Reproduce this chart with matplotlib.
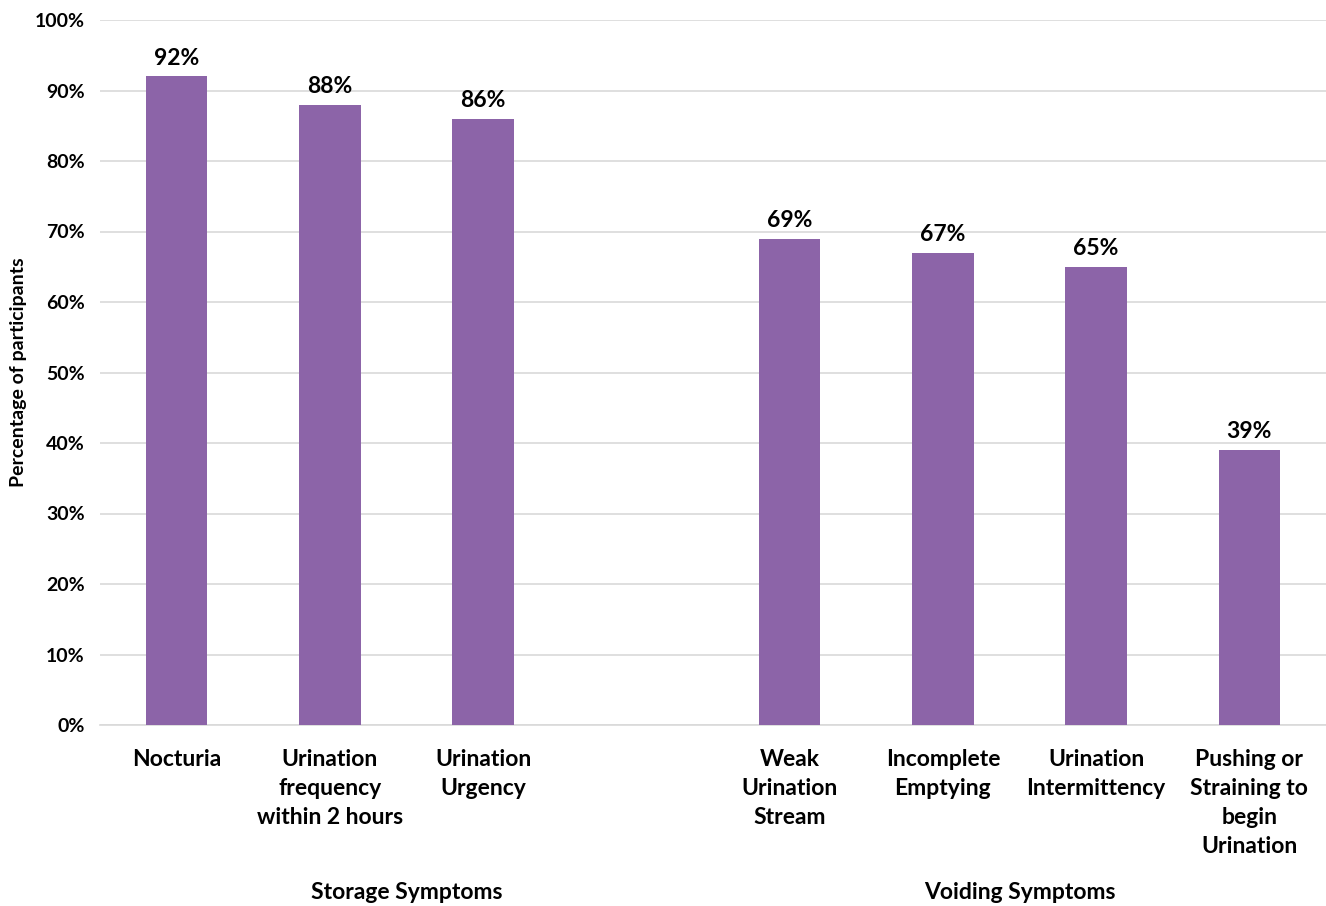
import matplotlib.pyplot as plt
from matplotlib.ticker import PercentFormatter

plt.rcParams['font.family'] = ['Lato', 'DejaVu Sans']
plt.rcParams['font.weight'] = 'bold'

# data
categories = ['Nocturia', 'Urination\nfrequency\nwithin 2 hours', 'Urination\nUrgency',
              'Weak\nUrination\nStream', 'Incomplete\nEmptying', 'Urination\nIntermittency',
              'Pushing or\nStraining to\nbegin\nUrination']
values = [92, 88, 86, 69, 67, 65, 39]
slots = [0, 1, 2, 4, 5, 6, 7]
groups = ['Storage Symptoms', 'Voiding Symptoms']
group_centers = [1.5, 5.5]

bar_color = '#8C64A8'
grid_color = '#D9D9D9'

fig = plt.figure(figsize=(13.26, 9.06), dpi=100)
ax = fig.add_axes([100 / 1326, 181 / 906, 1226 / 1326, 705 / 906])

bars = ax.bar(slots, values, width=0.4, color=bar_color, zorder=3)
for x, v in zip(slots, values):
    ax.text(x, v + 1.1, f'{v}%', ha='center', va='bottom', fontsize=16.5, fontweight='bold')

ax.set_xlim(-0.5, 7.5)
ax.set_ylim(0, 100)
ax.set_yticks(range(0, 101, 10))
ax.yaxis.set_major_formatter(PercentFormatter(decimals=0))
ax.set_xticks(slots)
ax.set_xticklabels(categories, fontsize=16.5, fontweight='bold', linespacing=1.47, va='top')
ax.tick_params(axis='x', length=0, pad=17)
ax.tick_params(axis='y', length=0, pad=11, labelsize=14)
for lab in ax.get_yticklabels():
    lab.set_fontweight('bold')

ax.grid(axis='y', color=grid_color, linewidth=1.2, zorder=0)
for s in ['top', 'right', 'left']:
    ax.spines[s].set_visible(False)
ax.spines['bottom'].set_color(grid_color)
ax.spines['bottom'].set_linewidth(1.2)

ax.set_ylabel('Percentage of participants', fontsize=14, fontweight='bold')
ax.yaxis.set_label_coords(-0.0595, 0.5)

for name, c in zip(groups, group_centers):
    ax.text(c, -23.7, name, ha='center', va='center', fontsize=16.5, fontweight='bold',
            transform=ax.transData, clip_on=False)

fig.savefig('out.png', dpi=100)
